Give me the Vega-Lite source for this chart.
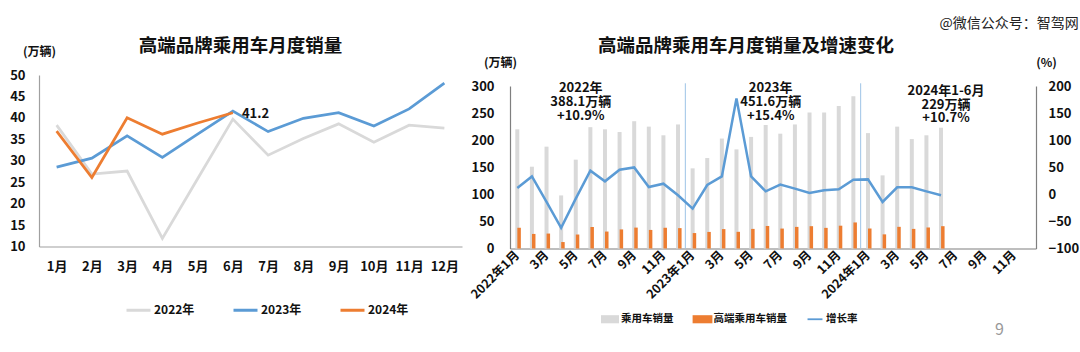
{
  "$schema": "https://vega.github.io/schema/vega-lite/v6.json",
  "padding": {"left": 9, "top": 16, "right": 5, "bottom": 0},
  "title": {"text": "@微信公众号：智驾网", "anchor": "end", "fontSize": 14, "fontWeight": "normal", "color": "#222222", "font": "Noto Sans CJK SC", "offset": 6},
  "config": {"font": "Noto Sans CJK SC", "view": {"stroke": null}},
  "spacing": 6,
  "bounds": "full",
  "resolve": {"scale": {"color": "independent", "x": "independent", "y": "independent"}, "legend": {"color": "independent"}},
  "hconcat": [
    {
      "width": 423,
      "height": 171.5,
      "title": {"text": "高端品牌乘用车月度销量", "fontSize": 18.5, "fontWeight": "bold", "color": "#111111", "offset": -10, "dx": -10},
      "data": {"values": [
        {"月份": "1月", "年份": "2022年", "销量": 38.3},
        {"月份": "2月", "年份": "2022年", "销量": 26.9},
        {"月份": "3月", "年份": "2022年", "销量": 27.6},
        {"月份": "4月", "年份": "2022年", "销量": 11.9},
        {"月份": "5月", "年份": "2022年", "销量": 25.8},
        {"月份": "6月", "年份": "2022年", "销量": 39.7},
        {"月份": "7月", "年份": "2022年", "销量": 31.3},
        {"月份": "8月", "年份": "2022年", "销量": 35.2},
        {"月份": "9月", "年份": "2022年", "销量": 38.6},
        {"月份": "10月", "年份": "2022年", "销量": 34.3},
        {"月份": "11月", "年份": "2022年", "销量": 38.3},
        {"月份": "12月", "年份": "2022年", "销量": 37.6},
        {"月份": "1月", "年份": "2023年", "销量": 28.5},
        {"月份": "2月", "年份": "2023年", "销量": 30.6},
        {"月份": "3月", "年份": "2023年", "销量": 35.8},
        {"月份": "4月", "年份": "2023年", "销量": 30.8},
        {"月份": "5月", "年份": "2023年", "销量": 36.2},
        {"月份": "6月", "年份": "2023年", "销量": 41.6},
        {"月份": "7月", "年份": "2023年", "销量": 36.8},
        {"月份": "8月", "年份": "2023年", "销量": 39.9},
        {"月份": "9月", "年份": "2023年", "销量": 41.2},
        {"月份": "10月", "年份": "2023年", "销量": 38.1},
        {"月份": "11月", "年份": "2023年", "销量": 42.1},
        {"月份": "12月", "年份": "2023年", "销量": 48.1},
        {"月份": "1月", "年份": "2024年", "销量": 36.9},
        {"月份": "2月", "年份": "2024年", "销量": 26.1},
        {"月份": "3月", "年份": "2024年", "销量": 40.0},
        {"月份": "4月", "年份": "2024年", "销量": 36.2},
        {"月份": "5月", "年份": "2024年", "销量": 38.8},
        {"月份": "6月", "年份": "2024年", "销量": 41.2}
      ]},
      "encoding": {
        "x": {"field": "月份", "type": "ordinal",
          "scale": {"type": "point", "padding": 0.5, "domain": ["1月","2月","3月","4月","5月","6月","7月","8月","9月","10月","11月","12月"]},
          "axis": {"title": null, "labelAngle": 0, "labelFontSize": 13, "labelFontWeight": "bold", "labelColor": "#111111", "labelPadding": 14, "ticks": false, "domainColor": "#a0a0a0", "domainWidth": 1.2, "grid": false, "labelOverlap": false}},
        "y": {"field": "销量", "type": "quantitative",
          "scale": {"domain": [10, 50], "nice": false, "zero": false},
          "axis": {"title": "(万辆)", "titleAngle": 0, "titleX": 0, "titleY": -24, "titleAlign": "center", "titleBaseline": "middle", "titleFontSize": 12, "titleFontWeight": "bold", "titleColor": "#111111",
            "values": [10,15,20,25,30,35,40,45,50], "labelFontSize": 13, "labelFontWeight": "bold", "labelColor": "#111111", "labelPadding": 14, "ticks": false, "grid": false, "domainColor": "#a0a0a0", "domainWidth": 1.2, "labelOverlap": false}}
      },
      "layer": [
        {
          "mark": {"type": "line", "strokeWidth": 2.75},
          "encoding": {
            "color": {"field": "年份", "type": "nominal",
              "scale": {"domain": ["2022年","2023年","2024年"], "range": ["#d9d9d9","#5b9bd5","#ed7d31"]},
              "legend": {"title": null, "orient": "none", "legendX": 86, "legendY": 221.5, "direction": "horizontal", "symbolType": "stroke", "symbolSize": 576, "symbolStrokeWidth": 3, "labelFontSize": 12, "labelFontWeight": "bold", "labelColor": "#111111", "columnPadding": 32, "labelOffset": 2}}
          }
        },
        {
          "data": {"values": [{"月份": "6月", "销量": 41.2}]},
          "mark": {"type": "text", "align": "left", "baseline": "middle", "dx": 9, "dy": 1, "fontSize": 13, "fontWeight": "bold", "color": "#111111"},
          "encoding": {
            "text": {"field": "销量", "type": "quantitative", "format": ".1f"}
          }
        }
      ]
    },
    {
      "width": 526,
      "height": 173.5,
      "title": {"text": "高端品牌乘用车月度销量及增速变化", "fontSize": 18.5, "fontWeight": "bold", "color": "#111111", "offset": 1, "dx": -27},
      "data": {"values": [
        {"月": "2022-01", "指标": "乘用车销量", "值": 220}, {"月": "2022-01", "指标": "高端乘用车销量", "值": 38.3}, {"月": "2022-01", "指标": "增长率", "值": 11.7},
        {"月": "2022-02", "指标": "乘用车销量", "值": 151}, {"月": "2022-02", "指标": "高端乘用车销量", "值": 26.9}, {"月": "2022-02", "指标": "增长率", "值": 33.1},
        {"月": "2022-03", "指标": "乘用车销量", "值": 188}, {"月": "2022-03", "指标": "高端乘用车销量", "值": 27.6}, {"月": "2022-03", "指标": "增长率", "值": -14.1},
        {"月": "2022-04", "指标": "乘用车销量", "值": 98}, {"月": "2022-04", "指标": "高端乘用车销量", "值": 11.9}, {"月": "2022-04", "指标": "增长率", "值": -62},
        {"月": "2022-05", "指标": "乘用车销量", "值": 164}, {"月": "2022-05", "指标": "高端乘用车销量", "值": 25.8}, {"月": "2022-05", "指标": "增长率", "值": -8},
        {"月": "2022-06", "指标": "乘用车销量", "值": 224}, {"月": "2022-06", "指标": "高端乘用车销量", "值": 39.7}, {"月": "2022-06", "指标": "增长率", "值": 43.6},
        {"月": "2022-07", "指标": "乘用车销量", "值": 220}, {"月": "2022-07", "指标": "高端乘用车销量", "值": 31.3}, {"月": "2022-07", "指标": "增长率", "值": 24},
        {"月": "2022-08", "指标": "乘用车销量", "值": 215}, {"月": "2022-08", "指标": "高端乘用车销量", "值": 35.2}, {"月": "2022-08", "指标": "增长率", "值": 45.4},
        {"月": "2022-09", "指标": "乘用车销量", "值": 235}, {"月": "2022-09", "指标": "高端乘用车销量", "值": 38.6}, {"月": "2022-09", "指标": "增长率", "值": 49.7},
        {"月": "2022-10", "指标": "乘用车销量", "值": 225}, {"月": "2022-10", "指标": "高端乘用车销量", "值": 34.3}, {"月": "2022-10", "指标": "增长率", "值": 13.5},
        {"月": "2022-11", "指标": "乘用车销量", "值": 209}, {"月": "2022-11", "指标": "高端乘用车销量", "值": 38.3}, {"月": "2022-11", "指标": "增长率", "值": 19.6},
        {"月": "2022-12", "指标": "乘用车销量", "值": 229}, {"月": "2022-12", "指标": "高端乘用车销量", "值": 37.6}, {"月": "2022-12", "指标": "增长率", "值": -1.8},
        {"月": "2023-01", "指标": "乘用车销量", "值": 148}, {"月": "2023-01", "指标": "高端乘用车销量", "值": 28.5}, {"月": "2023-01", "指标": "增长率", "值": -26.4},
        {"月": "2023-02", "指标": "乘用车销量", "值": 167}, {"月": "2023-02", "指标": "高端乘用车销量", "值": 30.6}, {"月": "2023-02", "指标": "增长率", "值": 17.2},
        {"月": "2023-03", "指标": "乘用车销量", "值": 203}, {"月": "2023-03", "指标": "高端乘用车销量", "值": 35.8}, {"月": "2023-03", "指标": "增长率", "值": 33.1},
        {"月": "2023-04", "指标": "乘用车销量", "值": 183}, {"月": "2023-04", "指标": "高端乘用车销量", "值": 30.8}, {"月": "2023-04", "指标": "增长率", "值": 177},
        {"月": "2023-05", "指标": "乘用车销量", "值": 206}, {"月": "2023-05", "指标": "高端乘用车销量", "值": 36.2}, {"月": "2023-05", "指标": "增长率", "值": 33.1},
        {"月": "2023-06", "指标": "乘用车销量", "值": 228}, {"月": "2023-06", "指标": "高端乘用车销量", "值": 41.6}, {"月": "2023-06", "指标": "增长率", "值": 5.5},
        {"月": "2023-07", "指标": "乘用车销量", "值": 212}, {"月": "2023-07", "指标": "高端乘用车销量", "值": 36.8}, {"月": "2023-07", "指标": "增长率", "值": 18},
        {"月": "2023-08", "指标": "乘用车销量", "值": 229}, {"月": "2023-08", "指标": "高端乘用车销量", "值": 39.9}, {"月": "2023-08", "指标": "增长率", "值": 10.5},
        {"月": "2023-09", "指标": "乘用车销量", "值": 251}, {"月": "2023-09", "指标": "高端乘用车销量", "值": 41.2}, {"月": "2023-09", "指标": "增长率", "值": 2.5},
        {"月": "2023-10", "指标": "乘用车销量", "值": 251}, {"月": "2023-10", "指标": "高端乘用车销量", "值": 38.1}, {"月": "2023-10", "指标": "增长率", "值": 7.4},
        {"月": "2023-11", "指标": "乘用车销量", "值": 263}, {"月": "2023-11", "指标": "高端乘用车销量", "值": 42.1}, {"月": "2023-11", "指标": "增长率", "值": 9.2},
        {"月": "2023-12", "指标": "乘用车销量", "值": 281}, {"月": "2023-12", "指标": "高端乘用车销量", "值": 48.1}, {"月": "2023-12", "指标": "增长率", "值": 27},
        {"月": "2024-01", "指标": "乘用车销量", "值": 213}, {"月": "2024-01", "指标": "高端乘用车销量", "值": 36.9}, {"月": "2024-01", "指标": "增长率", "值": 27.6},
        {"月": "2024-02", "指标": "乘用车销量", "值": 135}, {"月": "2024-02", "指标": "高端乘用车销量", "值": 26.1}, {"月": "2024-02", "指标": "增长率", "值": -14.1},
        {"月": "2024-03", "指标": "乘用车销量", "值": 225}, {"月": "2024-03", "指标": "高端乘用车销量", "值": 40.0}, {"月": "2024-03", "指标": "增长率", "值": 12.9},
        {"月": "2024-04", "指标": "乘用车销量", "值": 202}, {"月": "2024-04", "指标": "高端乘用车销量", "值": 36.2}, {"月": "2024-04", "指标": "增长率", "值": 12.9},
        {"月": "2024-05", "指标": "乘用车销量", "值": 209}, {"月": "2024-05", "指标": "高端乘用车销量", "值": 38.8}, {"月": "2024-05", "指标": "增长率", "值": 5.5},
        {"月": "2024-06", "指标": "乘用车销量", "值": 223}, {"月": "2024-06", "指标": "高端乘用车销量", "值": 41.2}, {"月": "2024-06", "指标": "增长率", "值": -1.8}
      ]},
      "encoding": {
        "x": {"field": "月", "type": "ordinal",
          "scale": {"type": "band", "paddingInner": 0, "paddingOuter": 0, "domain": ["2022-01","2022-02","2022-03","2022-04","2022-05","2022-06","2022-07","2022-08","2022-09","2022-10","2022-11","2022-12","2023-01","2023-02","2023-03","2023-04","2023-05","2023-06","2023-07","2023-08","2023-09","2023-10","2023-11","2023-12","2024-01","2024-02","2024-03","2024-04","2024-05","2024-06","2024-07","2024-08","2024-09","2024-10","2024-11","2024-12"]},
          "axis": {"title": null, "values": ["2022-01","2022-03","2022-05","2022-07","2022-09","2022-11","2023-01","2023-03","2023-05","2023-07","2023-09","2023-11","2024-01","2024-03","2024-05","2024-07","2024-09","2024-11"],
            "labelExpr": "substring(datum.value,5,7)=='01' ? substring(datum.value,0,4)+'年1月' : toNumber(substring(datum.value,5,7))+'月'",
            "labelAngle": -45, "labelAlign": "right", "labelBaseline": "middle", "labelFontSize": 12.5, "labelFontWeight": "bold", "labelColor": "#111111", "labelPadding": 4, "ticks": false, "domainColor": "#7f7f7f", "domainWidth": 1.2, "grid": false, "labelOverlap": false}}
      },
      "layer": [
        {
          "encoding": {
            "y": {"field": "值", "type": "quantitative",
              "scale": {"domain": [0, 300], "nice": false, "range": [173.5, 11]},
              "axis": {"title": "(万辆)", "titleAngle": 0, "titleX": -10, "titleY": -12.5, "titleAlign": "center", "titleBaseline": "middle", "titleFontSize": 12, "titleFontWeight": "bold", "titleColor": "#111111",
                "values": [0,50,100,150,200,250,300], "labelFontSize": 13, "labelFontWeight": "bold", "labelColor": "#111111", "labelPadding": 16, "ticks": false, "grid": false, "domainColor": "#7f7f7f", "domainWidth": 1.2, "labelOverlap": false}}
          },
          "layer": [
            {
              "transform": [{"filter": "datum['指标'] == '乘用车销量'"}],
              "mark": {"type": "bar", "width": 4, "xOffset": 0},
              "encoding": {
                "color": {"field": "指标", "type": "nominal",
                  "scale": {"domain": ["乘用车销量","高端乘用车销量","增长率"], "range": ["#d9d9d9","#ed7d31","#5b9bd5"]},
                  "legend": {"title": null, "orient": "none", "legendX": 91, "legendY": 235, "direction": "horizontal", "symbolType": "square", "symbolSize": 324, "symbolStrokeWidth": 0, "labelFontSize": 10.5, "labelFontWeight": "bold", "labelColor": "#111111", "columnPadding": 18.5, "labelOffset": 2,
                    "encode": {"symbols": {"update": {
                      "shape": {"signal": "datum.value == '增长率' ? 'M-0.83,-0.1H0.83V0.1H-0.83Z' : datum.value == '高端乘用车销量' ? 'M-1.1,-0.45H1.1V0.45H-1.1Z' : 'M-1,-0.45H1V0.45H-1Z'"},
                      "fill": {"signal": "datum.value == '乘用车销量' ? '#d9d9d9' : datum.value == '高端乘用车销量' ? '#ed7d31' : '#5b9bd5'"},
                      "strokeWidth": {"value": 0}
                    }}}}}
              }
            },
            {
              "transform": [{"filter": "datum['指标'] == '高端乘用车销量'"}],
              "mark": {"type": "bar", "width": 3.5, "xOffset": 1.8},
              "encoding": {
                "color": {"field": "指标", "type": "nominal"}
              }
            },
            {
              "data": {"values": [{"月": "2023-01", "值": 305, "底": 0}, {"月": "2024-01", "值": 305, "底": 0}]},
              "mark": {"type": "rule", "color": "#9dc3e6", "strokeWidth": 1},
              "encoding": {
                "x": {"field": "月", "type": "ordinal", "bandPosition": 0},
                "y2": {"field": "底"}
              }
            },
            {
              "data": {"values": [
                {"月": "2022-05", "文字": "2022年", "值": 296},
                {"月": "2022-05", "文字": "388.1万辆", "值": 270.5},
                {"月": "2022-05", "文字": "+10.9%", "值": 245},
                {"月": "2023-06", "文字": "2023年", "值": 296},
                {"月": "2023-06", "文字": "451.6万辆", "值": 270.5},
                {"月": "2023-06", "文字": "+15.4%", "值": 245},
                {"月": "2024-06", "文字": "2024年1-6月", "值": 291},
                {"月": "2024-06", "文字": "229万辆", "值": 265},
                {"月": "2024-06", "文字": "+10.7%", "值": 241}
              ]},
              "mark": {"type": "text", "align": "center", "baseline": "middle", "dx": 5, "fontSize": 13, "fontWeight": "bold", "color": "#111111"},
              "encoding": {
                "text": {"field": "文字", "type": "nominal"}
              }
            },
            {
              "data": {"values": [{"月": "2024-10", "文字": "9", "值": -150}]},
              "mark": {"type": "text", "align": "center", "baseline": "middle", "fontSize": 16, "color": "#999999"},
              "encoding": {
                "text": {"field": "文字", "type": "nominal"}
              }
            }
          ]
        },
        {
          "transform": [{"filter": "datum['指标'] == '增长率'"}],
          "mark": {"type": "line", "strokeWidth": 2.5},
          "encoding": {
            "y": {"field": "值", "type": "quantitative",
              "scale": {"domain": [-100, 200], "nice": false, "range": [173.5, 11]},
              "axis": {"orient": "right", "title": "(%)", "titleAngle": 0, "titleX": 10, "titleY": -13, "titleAlign": "center", "titleBaseline": "middle", "titleFontSize": 12, "titleFontWeight": "bold", "titleColor": "#111111",
                "values": [-100,-50,0,50,100,150,200], "labelFontSize": 13, "labelFontWeight": "bold", "labelColor": "#111111", "labelPadding": 12, "ticks": false, "grid": false, "domainColor": "#7f7f7f", "domainWidth": 1.2, "labelOverlap": false}},
            "color": {"field": "指标", "type": "nominal"}
          }
        }
      ],
      "resolve": {"scale": {"y": "independent"}}
    }
  ]
}
